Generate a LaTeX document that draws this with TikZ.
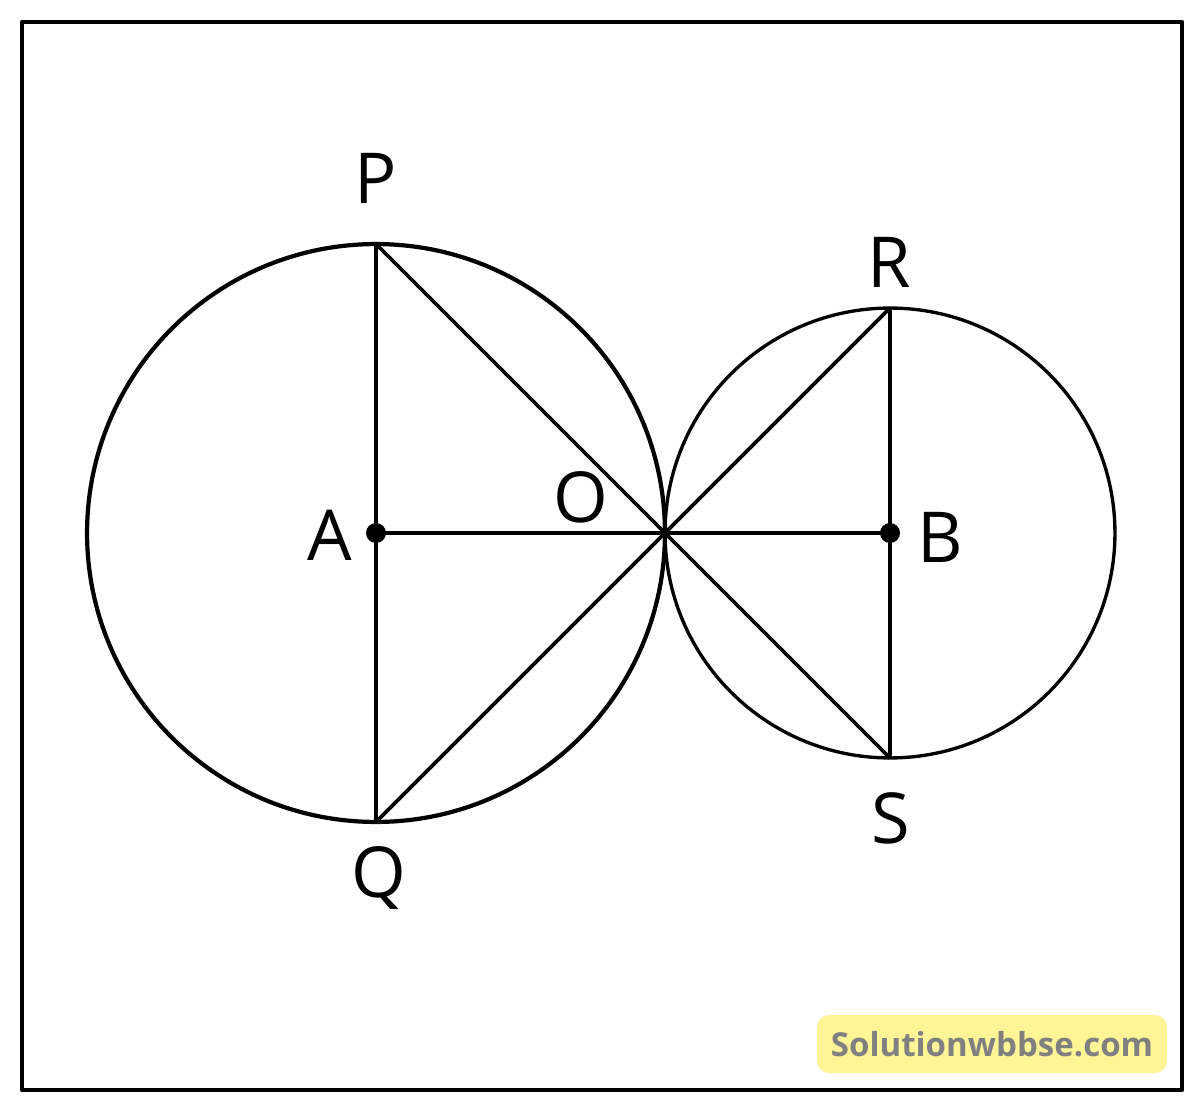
\documentclass[tikz,border=0pt]{standalone}
\usepackage{fontspec}
\usetikzlibrary{positioning, calc}
\newfontfamily\ptfont{Open Sans}
\definecolor{markbg}{RGB}{255,245,150}
\definecolor{markfg}{RGB}{128,128,128}

\begin{document}
\begin{tikzpicture}[x=0.02cm, y=-0.02cm, line join=round]
        \useasboundingbox (0,0) rectangle (1200,1114);
        \tikzset{ptlabel/.style={font=\ptfont\fontsize{40}{48}\selectfont, inner sep=0pt},
                 geo/.style={line width=2.1pt}}
        % Frame
        \draw[line width=2.6pt] (22,22) rectangle (1182,1090);
        
        % Points
        \coordinate (A) at (376,533);
        \coordinate (O) at (665,533);
        \coordinate (B) at (890,533);
        \coordinate (P) at (376,244);
        \coordinate (Q) at (376,822);
        \coordinate (R) at (890,308);
        \coordinate (S) at (890,758);
        
        % Circles
        \draw[line width=2.4pt] (A) circle (5.78cm);
        \draw[line width=1.9pt] (B) circle (4.5cm);
        
        % Chords and diameters
        \draw[geo] (P) -- (Q);
        \draw[geo] (P) -- (O) -- (Q);
        \draw[geo] (A) -- (O) -- (B);
        \draw[geo] (R) -- (S);
        \draw[geo] (R) -- (O) -- (S);
        
        % Centres
        \fill (A) circle (0.2cm);
        \fill (B) circle (0.2cm);
        
        % Labels
        \node[ptlabel] (labP) at (376,178) {P};
        \node[ptlabel] (labQ) at (379,878) {Q};
        \node[ptlabel] (labA) at (330,535) {A};
        \node[ptlabel] (labO) at (581,497) {O};
        \node[ptlabel] (labR) at (889,262) {R};
        \node[ptlabel] (labB) at (940,537) {B};
        \node[ptlabel] (labS) at (891,818) {S};
        
        % Watermark
        \node[fill=markbg, rounded corners=0.24cm, minimum width=7cm, minimum height=1.16cm,
              text=markfg, font=\ptfont\bfseries\fontsize{18.8}{22}\selectfont] (mark) at (992,1044) {Solutionwbbse.com};
    \end{tikzpicture}
\end{document}
